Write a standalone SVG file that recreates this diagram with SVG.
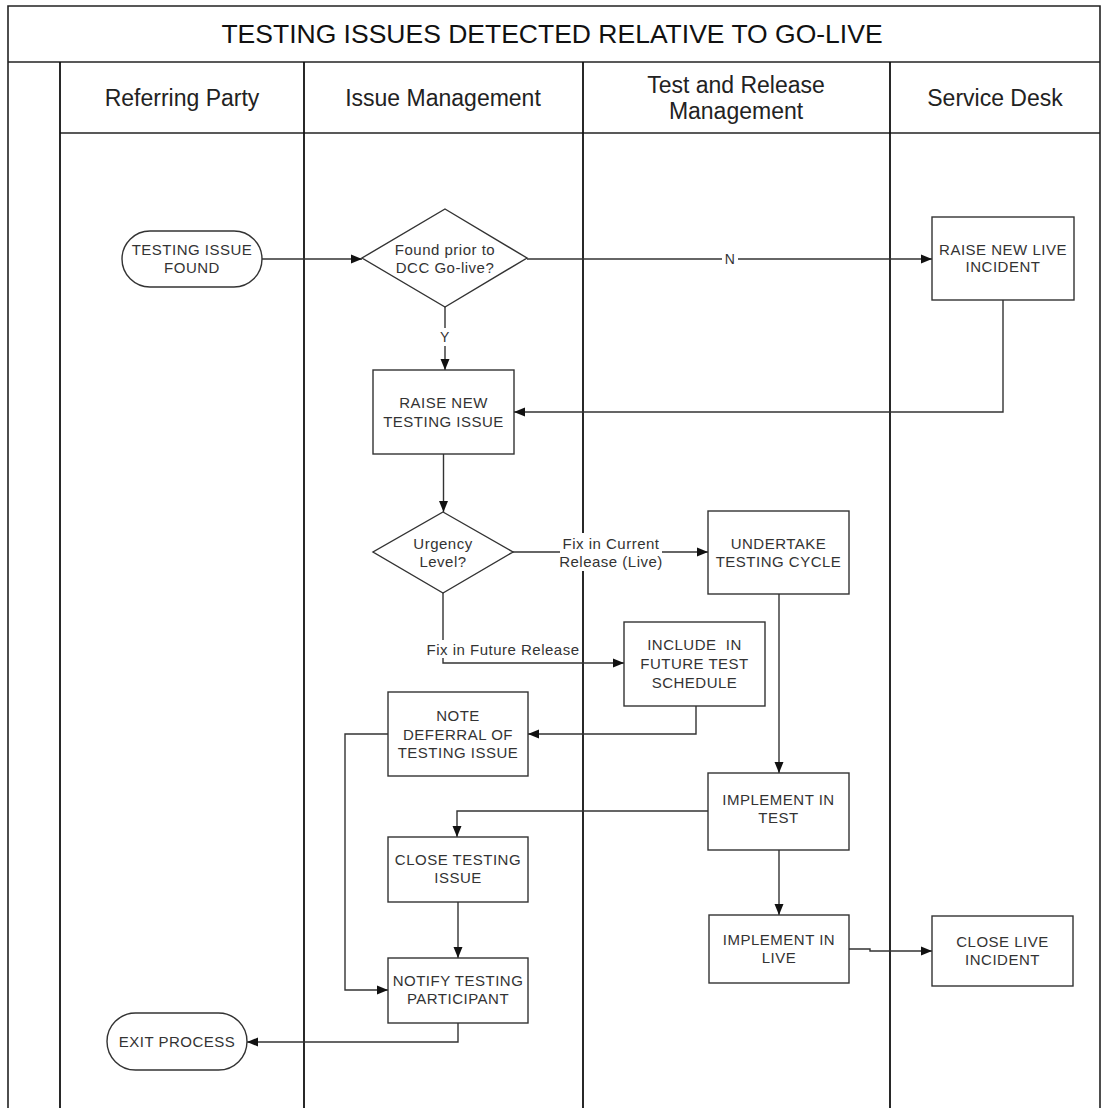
<svg xmlns="http://www.w3.org/2000/svg" width="1105" height="1108" viewBox="0 0 1105 1108">
<style>
  .frame { fill: none; stroke: #222; stroke-width: 1.6; }
  .lane { stroke: #111; stroke-width: 1.8; }
  .node { fill: #fff; stroke: #333; stroke-width: 1.4; }
  .t { font-family: "Liberation Sans", Arial, sans-serif; font-size: 15px; letter-spacing: 0.5px; fill: #333; text-anchor: middle; dominant-baseline: central; white-space: pre; }
  .hdr { font-family: "Liberation Sans", Arial, sans-serif; font-size: 23px; fill: #222; text-anchor: middle; dominant-baseline: central; }
  .title { font-family: "Liberation Sans", Arial, sans-serif; font-size: 26.5px; fill: #111; text-anchor: middle; dominant-baseline: central; }
  .edge { fill: none; stroke: #333; stroke-width: 1.4; marker-end: url(#arrow); }
  .lblbg { fill: #fff; stroke: none; }
</style>
<defs>
  <marker id="arrow" viewBox="0 0 11 10" refX="11" refY="5" markerWidth="11" markerHeight="10" markerUnits="userSpaceOnUse" orient="auto">
    <path d="M0,0.5 L11,5 L0,9.5 Z" fill="#111"/>
  </marker>
</defs>
<rect x="0" y="0" width="1105" height="1108" fill="#fff"/>

<g id="pool">
  <path class="frame" d="M8,1108 L8,6 L1100,6 L1100,1108"/>
  <line class="frame" x1="8" y1="62" x2="1100" y2="62"/>
  <line class="frame" x1="60" y1="133" x2="1100" y2="133"/>
  <line class="lane" x1="60" y1="62" x2="60" y2="1108"/>
  <line class="lane" x1="304" y1="62" x2="304" y2="1108"/>
  <line class="lane" x1="583" y1="62" x2="583" y2="1108"/>
  <line class="lane" x1="890" y1="62" x2="890" y2="1108"/>
  <text class="title" x="552" y="34">TESTING ISSUES DETECTED RELATIVE TO GO-LIVE</text>
  <text class="hdr" x="182" y="98">Referring Party</text>
  <text class="hdr" x="443" y="98">Issue Management</text>
  <text class="hdr" x="736" y="85">Test and Release</text>
  <text class="hdr" x="736" y="111">Management</text>
  <text class="hdr" x="995" y="98">Service Desk</text>
</g>

<g id="connectors">
  <path class="edge" d="M262,259 L362,259"/>
  <path class="edge" d="M527,259 L932,259"/>
  <path class="edge" d="M445,307 L445,370"/>
  <path class="edge" d="M1003,300 L1003,412 L514,412"/>
  <path class="edge" d="M443.5,454 L443.5,512"/>
  <path class="edge" d="M513,552 L708,552"/>
  <path class="edge" d="M443,593 L443,663 L624,663"/>
  <path class="edge" d="M696,706 L696,734 L528,734"/>
  <path class="edge" d="M388,734 L345,734 L345,990 L388,990"/>
  <path class="edge" d="M779,594 L779,773"/>
  <path class="edge" d="M708,811 L457,811 L457,837"/>
  <path class="edge" d="M458,902 L458,958"/>
  <path class="edge" d="M458,1023 L458,1042 L247,1042"/>
  <path class="edge" d="M779,850 L779,915"/>
  <path class="edge" d="M849,949 L870,949 L870,951 L932,951"/>
  <rect class="lblbg" x="722" y="250" width="16" height="18"/>
  <text class="t" x="730" y="259" style="font-size:14px">N</text>
  <rect class="lblbg" x="437" y="328" width="16" height="18"/>
  <text class="t" x="445" y="337" style="font-size:14px">Y</text>
  <rect class="lblbg" x="560" y="533" width="102" height="38"/>
  <text class="t" x="611" y="543">Fix in Current</text>
  <text class="t" x="611" y="561">Release (Live)</text>
  <rect class="lblbg" x="426" y="640" width="156" height="18"/>
  <text class="t" x="503" y="649">Fix in Future Release</text>
</g>

<g id="n_start">
  <rect class="node" x="122" y="231" width="140" height="56" rx="28" ry="28"/>
  <text class="t" x="192" y="249">TESTING ISSUE</text>
  <text class="t" x="192" y="267">FOUND</text>
</g>
<g id="n_found_prior">
  <polygon class="node" points="445,209 527,258 445,307 362,258"/>
  <text class="t" x="445" y="249">Found prior to</text>
  <text class="t" x="445" y="267">DCC Go-live?</text>
</g>
<g id="n_raise_live">
  <rect class="node" x="932" y="217" width="142" height="83"/>
  <text class="t" x="1003" y="249">RAISE NEW LIVE</text>
  <text class="t" x="1003" y="266">INCIDENT</text>
</g>
<g id="n_raise_testing">
  <rect class="node" x="373" y="370" width="141" height="84"/>
  <text class="t" x="443.5" y="402">RAISE NEW</text>
  <text class="t" x="443.5" y="421">TESTING ISSUE</text>
</g>
<g id="n_urgency">
  <polygon class="node" points="443,512 513,552 443,593 373,552"/>
  <text class="t" x="443" y="543">Urgency</text>
  <text class="t" x="443" y="561">Level?</text>
</g>
<g id="n_undertake">
  <rect class="node" x="708" y="511" width="141" height="83"/>
  <text class="t" x="778.5" y="543">UNDERTAKE</text>
  <text class="t" x="778.5" y="561">TESTING CYCLE</text>
</g>
<g id="n_include">
  <rect class="node" x="624" y="622" width="141" height="84"/>
  <text class="t" x="694.5" y="644">INCLUDE  IN</text>
  <text class="t" x="694.5" y="663">FUTURE TEST</text>
  <text class="t" x="694.5" y="682">SCHEDULE</text>
</g>
<g id="n_note">
  <rect class="node" x="388" y="692" width="140" height="84"/>
  <text class="t" x="458" y="715">NOTE</text>
  <text class="t" x="458" y="734">DEFERRAL OF</text>
  <text class="t" x="458" y="752">TESTING ISSUE</text>
</g>
<g id="n_impl_test">
  <rect class="node" x="708" y="773" width="141" height="77"/>
  <text class="t" x="778.5" y="799">IMPLEMENT IN</text>
  <text class="t" x="778.5" y="817">TEST</text>
</g>
<g id="n_close_testing">
  <rect class="node" x="388" y="837" width="140" height="65"/>
  <text class="t" x="458" y="859">CLOSE TESTING</text>
  <text class="t" x="458" y="877">ISSUE</text>
</g>
<g id="n_notify">
  <rect class="node" x="388" y="958" width="140" height="65"/>
  <text class="t" x="458" y="980">NOTIFY TESTING</text>
  <text class="t" x="458" y="998">PARTICIPANT</text>
</g>
<g id="n_impl_live">
  <rect class="node" x="709" y="915" width="140" height="68"/>
  <text class="t" x="779" y="939">IMPLEMENT IN</text>
  <text class="t" x="779" y="957">LIVE</text>
</g>
<g id="n_close_live">
  <rect class="node" x="932" y="916" width="141" height="70"/>
  <text class="t" x="1002.5" y="941">CLOSE LIVE</text>
  <text class="t" x="1002.5" y="959">INCIDENT</text>
</g>
<g id="n_exit">
  <rect class="node" x="107" y="1013" width="140" height="57" rx="28.5" ry="28.5"/>
  <text class="t" x="177" y="1041">EXIT PROCESS</text>
</g>
</svg>
